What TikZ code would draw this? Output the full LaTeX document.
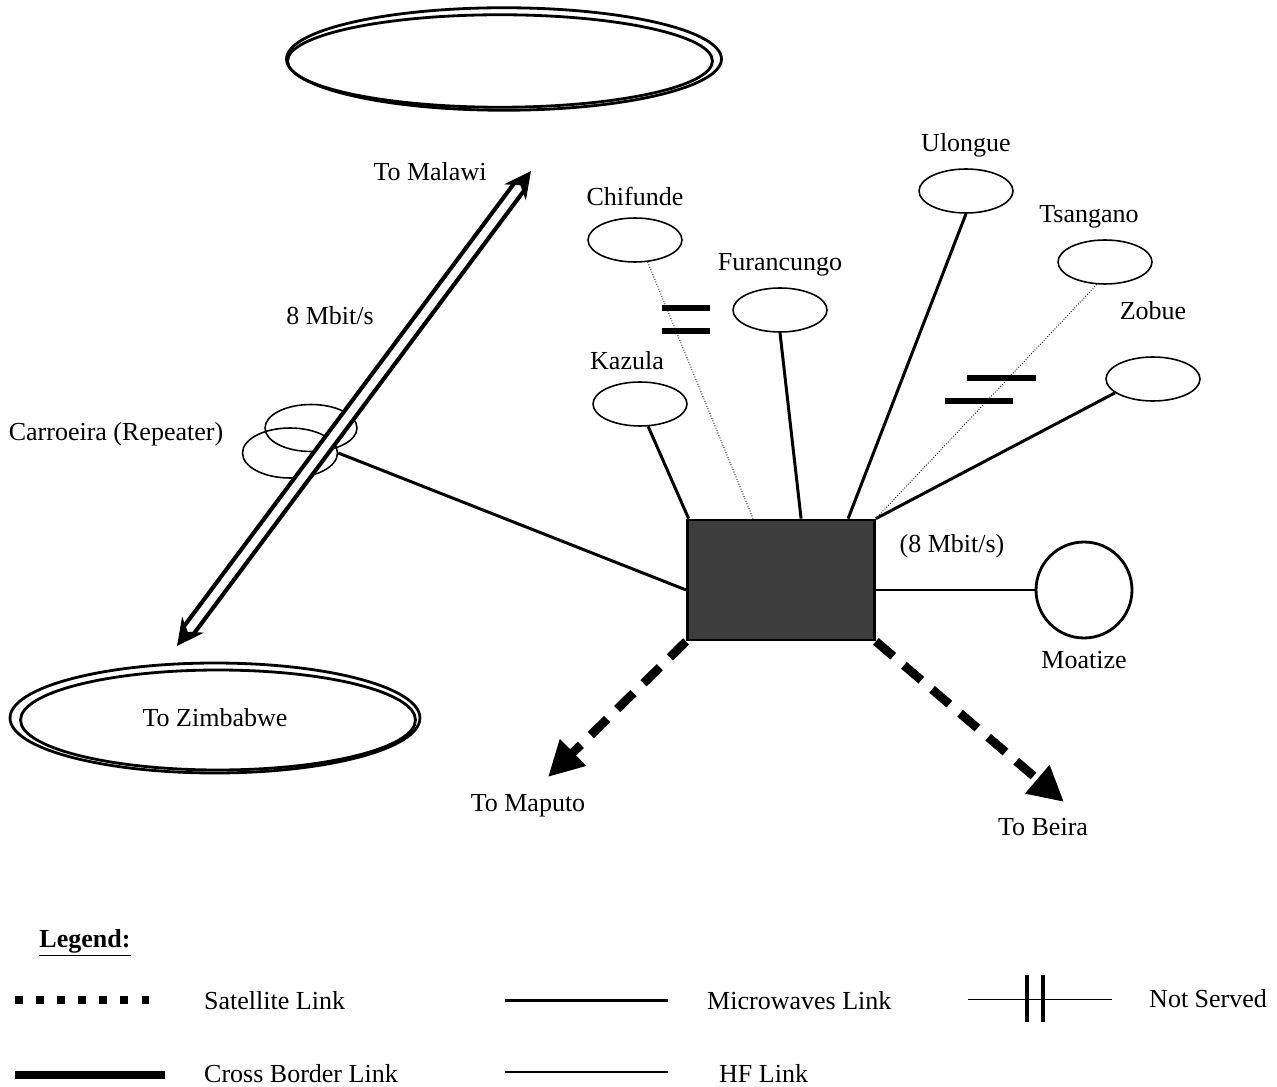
\documentclass[tikz,border=0pt]{standalone}
\usepackage{fontspec}
\setmainfont{Liberation Serif}
\usetikzlibrary{shapes.geometric,arrows.meta,positioning}

\begin{document}
\begin{tikzpicture}[
    x=0.02cm, y=-0.02cm,
    node distance=0.1cm,
    every node/.style={font=\fontsize{14.8}{17}\selectfont},
    site/.style={draw, ellipse, line width=0.9pt, minimum width=1.88cm, minimum height=0.88cm},
    ring/.style={draw, ellipse, line width=1.6pt},
    hub/.style={draw, line width=1.6pt, fill=black!76, minimum width=3.74cm, minimum height=2.4cm},
    mw/.style={line width=1.7pt},
    hf/.style={line width=0.5pt, densely dotted},
    sat/.style={line width=5pt, dash pattern=on 13pt off 8pt, -{Triangle[length=20pt,width=20pt]}},
    xborder/.style={double, double distance=4.5pt, line width=2.4pt, {Stealth[length=15pt,width=15pt]}-{Stealth[length=15pt,width=15pt]}},
    bar/.style={line width=3.2pt}
]
    \useasboundingbox (0,0) rectangle (1277,1087);

    % rings (cross border ends)
    \node (top) [ring, minimum width=8.7cm, minimum height=2.05cm] at (504,59) {};
    \node (top2) [ring, minimum width=8.5cm, minimum height=1.85cm] at (500,61) {};
    \node (zim) [ring, minimum width=8.2cm, minimum height=2.2cm] at (215,718) {To Zimbabwe};
    \node (zim2) [ring, minimum width=7.9cm, minimum height=2.0cm] at (218,720) {};

    % hub and sites
    \node (hub) [hub] at (781,580) {};
    \node (kazula) [site] at (640,404) {};
    \node (chifunde) [site] at (635,240) {};
    \node (furancungo) [site] at (780,310) {};
    \node (ulongue) [site] at (966,191) {};
    \node (tsangano) [site] at (1105,262) {};
    \node (zobue) [site] at (1153,379) {};
    \node (carro1) [site, minimum width=1.84cm, minimum height=0.94cm] at (311,428) {};
    \node (carro2) [site, minimum width=1.9cm, minimum height=1.0cm] at (290,453) {};
    \node (moatize) [draw, circle, line width=1.6pt, minimum size=1.92cm] at (1084,590) {};

    % labels
    \node (kazula-l) [above=of kazula, xshift=-0.26cm] {Kazula};
    \node (chifunde-l) [above=of chifunde] {Chifunde};
    \node (furancungo-l) [above=of furancungo] {Furancungo};
    \node (ulongue-l) [above=of ulongue] {Ulongue};
    \node (tsangano-l) [above=of tsangano, xshift=-0.32cm] {Tsangano};
    \node (zobue-l) [above=0.6cm of zobue] {Zobue};
    \node (moatize-l) [below=0.12cm of moatize] {Moatize};
    \node (carro-l) at (116,434) {Carroeira (Repeater)};
    \node (rate-l) at (330,316) {8 Mbit/s};
    \node (hubrate-l) at (952,546) {(8 Mbit/s)};
    \node (malawi-l) at (430,172) {To Malawi};
    \node (maputo-l) at (528,806) {To Maputo};
    \node (beira-l) at (1043,827) {To Beira};

    \coordinate (malawi) at (531,171);
    \coordinate (zimb) at (177,646);
    \coordinate (maputo) at (548,777);
    \coordinate (beira) at (1064,802);

    % links
    \draw [mw] (kazula.-70) -- ([xshift=0.05cm]hub.north west);
    \draw [hf] (chifunde.-60) -- ([xshift=1.34cm]hub.north west);
    \draw [mw] (furancungo.south) -- ([xshift=2.3cm]hub.north west);
    \draw [mw] (ulongue.south) -- ([xshift=3.24cm]hub.north west);
    \draw [hf] (tsangano.-110) -- (hub.north east);
    \draw [mw] (zobue.-160) -- (hub.north east);
    \draw [mw] (carro2.east) -- ([yshift=-0.2cm]hub.west);
    \draw [mw] (hub.east |- moatize.west) -- (moatize.west);
    \draw [sat] (hub.south west) -- (maputo);
    \draw [sat] (hub.south east) -- (beira);
    \draw [xborder] (zimb) -- (malawi);

    % not served marks
    \draw [bar] (662,308) -- (710,308);
    \draw [bar] (662,331) -- (710,331);
    \draw [bar] (967,378) -- (1036,378);
    \draw [bar] (945,401) -- (1013,401);

    % legend
    \node (legend) at (85,943) {\textbf{\underline{Legend:}}};
    \draw [line width=4pt, dash pattern=on 4.5pt off 7.5pt] (15,1000) -- (150,1000);
    \node (sat-l) [anchor=west] at (198,1001) {Satellite Link};
    \draw [mw] (505,1000) -- (668,1000);
    \node (mw-l) [anchor=west] at (701,1001) {Microwaves Link};
    \draw [line width=0.5pt] (968,999) -- (1112,999);
    \draw [line width=2pt] (1027,975) -- (1027,1022);
    \draw [line width=2pt] (1043,975) -- (1043,1022);
    \node (ns-l) [anchor=west] at (1143,999) {Not Served};
    \draw [line width=4.5pt] (15,1075) -- (165,1075);
    \node (xb-l) [anchor=west] at (198,1074) {Cross Border Link};
    \draw [line width=0.6pt] (505,1072) -- (668,1072);
    \node (hf-l) [anchor=west] at (713,1073) {HF Link};
\end{tikzpicture}
\end{document}
